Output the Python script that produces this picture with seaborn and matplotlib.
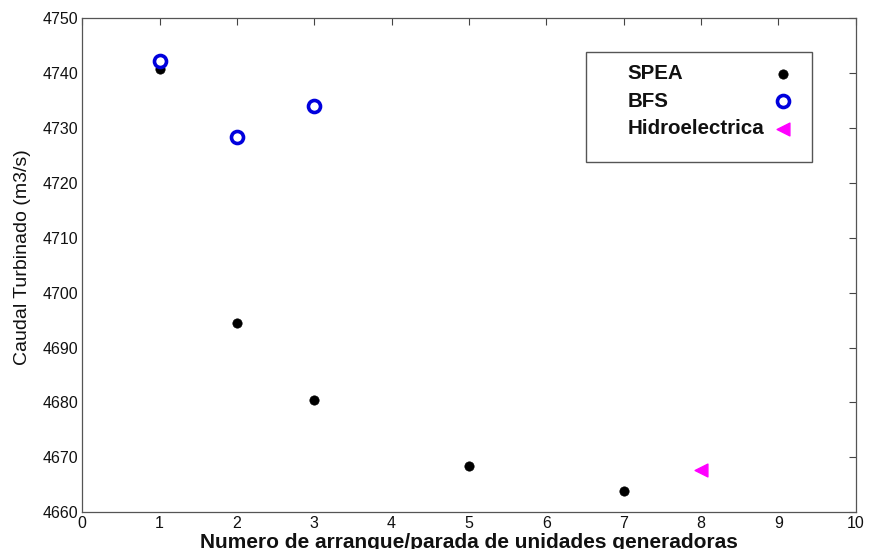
import pandas as pd
import matplotlib.pyplot as plt
import seaborn as sns
from matplotlib.patches import Rectangle

spea_x = [1, 2, 3, 5, 7]
spea_y = [4740.7, 4694.4, 4680.4, 4668.5, 4663.9]
bfs_x = [1, 2, 3]
bfs_y = [4742.2, 4728.4, 4734.0]
hidro_x = [8]
hidro_y = [4667.6]
series_names = ['SPEA', 'BFS', 'Hidroelectrica']

x_ticks = list(range(0, 11))
y_ticks = list(range(4660, 4751, 10))

sns.set_style('white')
plt.rcParams['font.family'] = ['Liberation Sans', 'DejaVu Sans']
plt.rcParams['text.color'] = '#111111'
plt.rcParams['axes.labelcolor'] = '#111111'
plt.rcParams['xtick.color'] = '#111111'
plt.rcParams['ytick.color'] = '#111111'

fig = plt.figure(figsize=(8.74, 5.49), dpi=100)
ax = fig.add_axes([0.094, 0.067, 0.885, 0.900])

sns.scatterplot(x=spea_x, y=spea_y, ax=ax, color='black', marker='o',
                s=45, edgecolor='black', linewidth=0.5, label=series_names[0])
sns.scatterplot(x=bfs_x, y=bfs_y, ax=ax, marker='o', s=75,
                facecolor='white', edgecolor='#0000dd', linewidth=2.6,
                label=series_names[1])
sns.scatterplot(x=hidro_x, y=hidro_y, ax=ax, marker='<', s=85,
                color='#ff00ff', edgecolor='#ff00ff', linewidth=1,
                label=series_names[2])

ax.set_xlim(0, 10)
ax.set_ylim(4660, 4750)
ax.set_xticks(x_ticks)
ax.set_yticks(y_ticks)
ax.tick_params(direction='in', length=5, width=0.8, color='#444444',
               top=True, right=True, labelsize=11.5, pad=3)
for sp in ax.spines.values():
    sp.set_color('#555555')
    sp.set_linewidth(0.9)

ax.set_xlabel('Numero de arranque/parada de unidades generadoras',
              fontsize=15, fontweight='bold', labelpad=1)
ax.set_ylabel('Caudal Turbinado (m3/s)', fontsize=14)
ax.yaxis.set_label_coords(-0.066, 0.516)

# MATLAB-like legend box: labels on the left, markers in a column on the right
handles, labels = ax.get_legend_handles_labels()
ax.add_patch(Rectangle((0.651, 0.709), 0.293, 0.222, transform=ax.transAxes,
                       facecolor='white', edgecolor='#555555', linewidth=1,
                       zorder=3))
leg_txt = ax.legend(handles, labels, loc='upper left',
                    bbox_to_anchor=(0.705, 0.907), frameon=False,
                    fontsize=14.8, handlelength=0, handletextpad=0,
                    labelspacing=0.42, borderpad=0, borderaxespad=0)
for h in leg_txt.legend_handles:
    h.set_visible(False)
for t in leg_txt.get_texts():
    t.set_fontweight('bold')
leg_txt.set_zorder(4)
ax.add_artist(leg_txt)

leg_mk = ax.legend(handles, [' '] * len(handles), loc='upper left',
                   bbox_to_anchor=(0.893, 0.907), frameon=False,
                   fontsize=14.8, handlelength=1.0, handletextpad=0,
                   labelspacing=0.42, borderpad=0, borderaxespad=0)
leg_mk.set_zorder(4)

fig.savefig('out.png', dpi=100)
